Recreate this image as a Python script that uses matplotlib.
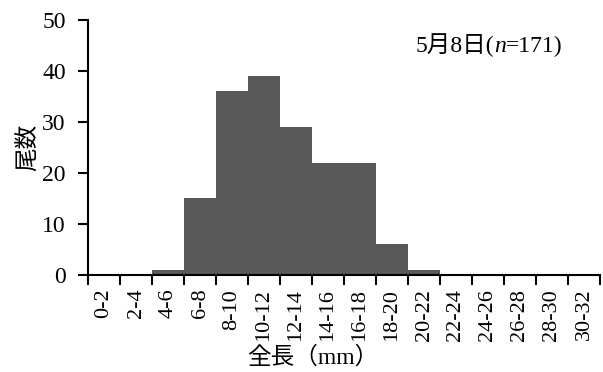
import numpy as np
import matplotlib
matplotlib.use("Agg")
from matplotlib import pyplot as plt

plt.rcParams['font.family'] = ['Liberation Serif', 'Noto Sans CJK JP']

# size classes (mm) and counts
classes = ['0-2', '2-4', '4-6', '6-8', '8-10', '10-12', '12-14', '14-16',
           '16-18', '18-20', '20-22', '22-24', '24-26', '26-28', '28-30', '30-32']
counts = [0, 0, 1, 15, 36, 39, 29, 22, 22, 6, 1, 0, 0, 0, 0, 0]

fig = plt.figure(figsize=(6.03, 3.72), dpi=100)
ax = fig.add_axes([0.146, 0.261, 0.849, 0.685])

x = np.arange(len(classes))
ax.bar(x, counts, width=1.0, color='#595959', edgecolor='none')

ax.set_xlim(-0.5, len(classes) - 0.5)
ax.set_ylim(0, 50)
ax.set_yticks([0, 10, 20, 30, 40, 50])
ax.set_xticks(x)
ax.set_xticklabels(classes, rotation=90, fontsize=16)
# ticks at class boundaries, labels centred between them
ax.set_xticks(np.arange(len(classes) + 1) - 0.5, minor=True)
ax.tick_params(axis='x', which='major', length=0, pad=10)
ax.tick_params(axis='x', which='minor', length=7, width=1.5, direction='out')
ax.tick_params(axis='y', length=7, width=1.5, direction='out', labelsize=17, pad=9)

for s in ['top', 'right']:
    ax.spines[s].set_visible(False)
for s in ['left', 'bottom']:
    ax.spines[s].set_linewidth(1.5)

ax.set_ylabel('尾数', fontsize=17)
ax.yaxis.set_label_coords(-0.094, 0.5)
ax.set_xlabel('全長（mm）', fontsize=17)
ax.xaxis.set_label_coords(0.44, -0.28)

# "5月8日(" + italic n + "=171)"
t1 = ax.text(0.64, 45, '5月8日(', transform=ax.get_yaxis_transform(),
             ha='left', va='center', fontsize=17)
t2 = ax.annotate('n', xy=(1, 0), xycoords=t1, ha='left', va='bottom',
                 fontsize=17, style='italic')
ax.annotate('=171)', xy=(1, 0), xycoords=t2, ha='left', va='bottom', fontsize=17)

fig.savefig('out.png', dpi=100)
